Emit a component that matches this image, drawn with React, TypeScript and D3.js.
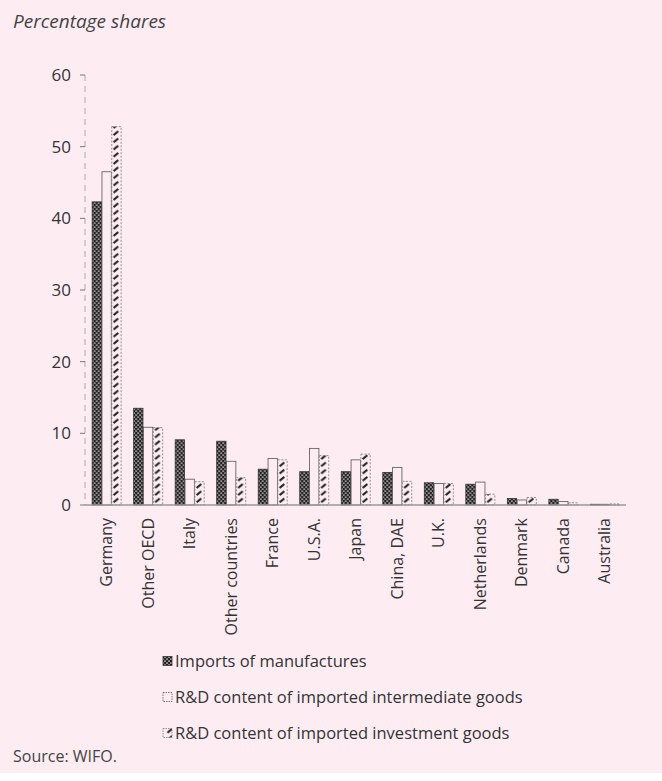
import React from "react";
import * as d3 from "d3";

const categories = [
  "Germany", "Other OECD", "Italy", "Other countries", "France", "U.S.A.",
  "Japan", "China, DAE", "U.K.", "Netherlands", "Denmark", "Canada", "Australia",
];
const seriesNames = [
  "Imports of manufactures",
  "R&D content of imported intermediate goods",
  "R&D content of imported investment goods",
];
const importsManufactures = [42.3, 13.5, 9.1, 8.9, 5.0, 4.65, 4.65, 4.55, 3.1, 2.9, 0.9, 0.8, 0.1];
const rdIntermediate = [46.5, 10.85, 3.6, 6.1, 6.5, 7.9, 6.3, 5.25, 3.0, 3.2, 0.7, 0.5, 0.1];
const rdInvestment = [52.8, 10.8, 3.25, 3.8, 6.3, 6.9, 7.1, 3.3, 3.0, 1.5, 1.05, 0.3, 0.15];
const yTicks = [0, 10, 20, 30, 40, 50, 60];

const W = 662;
const H = 781;
const FONT = "'Open Sans', sans-serif";
const BG = "#fdedf3";
const TXT = "#333";

export default function App() {
  const x = d3.scaleBand<string>().domain(categories).range([85, 626]).paddingInner(0.29).paddingOuter(0.16);
  const inner = d3.scaleBand<string>().domain(seriesNames).range([0, x.bandwidth()]);
  const y = d3.scaleLinear().domain([0, 60]).range([505, 75]);
  const values = [importsManufactures, rdIntermediate, rdInvestment];
  const fills = ["url(#pDark)", BG, "url(#pHatch)"];
  const strokes = ["#333", "#555", "#777"];
  const dashes = [undefined, undefined, "2 1.5"];

  return (
    <svg width={W} height={H} style={{ display: "block", position: "absolute", left: 0, top: 0 }}>
      <defs>
        <pattern id="pDark" patternUnits="userSpaceOnUse" width="4" height="4">
          <rect width="4" height="4" fill="#222" />
          <circle cx="1" cy="1" r="0.85" fill="#e8e0e4" />
          <circle cx="3" cy="3" r="0.85" fill="#e8e0e4" />
        </pattern>
        <pattern id="pHatch" patternUnits="userSpaceOnUse" width="9.7" height="7.2">
          <rect width="9.7" height="7.2" fill={BG} />
          <line x1="2.5" y1="5.6" x2="7.2" y2="1.6" stroke="#222" strokeWidth="2.1" />
        </pattern>
      </defs>
      <rect x={0} y={0} width={W} height={773} fill={BG} />

      <text x={13} y={28} fontFamily={FONT} fontStyle="italic" fontSize={19} fill="#444">Percentage shares</text>

      {/* y axis */}
      <line x1={85} x2={85} y1={y(60)} y2={y(0)} stroke="#aaa" strokeWidth={1} strokeDasharray="6 5" />
      {yTicks.map((t) => (
        <g key={t}>
          <line x1={80} x2={85} y1={y(t)} y2={y(t)} stroke="#777" strokeWidth={1} />
          <text x={71} y={y(t)} dy="0.35em" textAnchor="end" fontFamily={FONT} fontSize={17} fill={TXT}>{t}</text>
        </g>
      ))}

      {/* bars */}
      {categories.map((c, i) => (
        <g key={c} transform={`translate(${x(c)},0)`}>
          {seriesNames.map((s, j) => {
            const v = values[j][i];
            const bx = inner(s)!;
            const by = y(v);
            return (
              <rect key={s} x={bx + 0.5} y={by} width={inner.bandwidth() - 0.5} height={y(0) - by}
                fill={fills[j]} stroke={strokes[j]} strokeWidth={0.8} strokeDasharray={dashes[j]} />
            );
          })}
        </g>
      ))}

      <line x1={85} x2={626} y1={505} y2={505} stroke="#999" strokeWidth={1.5} />

      {/* category labels */}
      {categories.map((c) => (
        <text key={c} transform={`translate(${x(c)! + x.bandwidth() / 2},518) rotate(-90)`} dy="0.35em"
          textAnchor="end" fontFamily={FONT} fontSize={16} fill={TXT}>{c}</text>
      ))}

      {/* legend */}
      {seriesNames.map((s, j) => {
        const cy = 661 + j * 36;
        return (
          <g key={s}>
            <rect x={163} y={cy - 4.5} width={9} height={9} fill={fills[j]} stroke={strokes[j]} strokeWidth={0.8}
              strokeDasharray={j === 0 ? undefined : "1.5 1"} />
            <text x={175} y={cy} dy="0.35em" fontFamily={FONT} fontSize={16.5} fill={TXT}>{s}</text>
          </g>
        );
      })}

      <text x={13} y={762} fontFamily={FONT} fontSize={16} fill="#444">Source: WIFO.</text>
    </svg>
  );
}
